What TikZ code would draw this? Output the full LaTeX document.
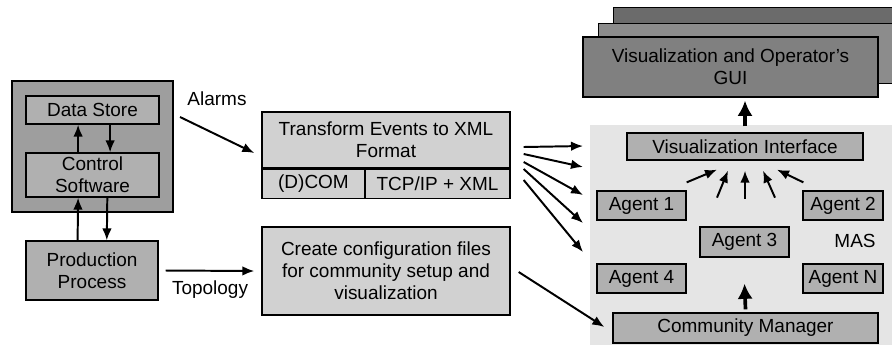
\documentclass[tikz,border=0pt]{standalone}
\usepackage{fontspec}
\setmainfont{Liberation Sans}
\usetikzlibrary{arrows.meta,calc}

\begin{document}
\begin{tikzpicture}[
  x=0.025cm, y=-0.025cm,
  every node/.style={font=\fontsize{13.5}{15.6}\selectfont},
  box/.style={rectangle, draw=black, line width=0.9pt, inner sep=0pt, align=center},
  darkbox/.style={box, fill=black!38},
  midbox/.style={box, fill=black!31},
  lightbox/.style={box, fill=black!18},
  guibox/.style={box, fill=black!50},
  arw/.style={-{Latex[length=0.3cm,width=0.24cm]}, line width=1.4pt},
  fatarw/.style={-{Latex[length=0.38cm,width=0.38cm]}, line width=2.6pt}
  ]

\useasboundingbox (0,0) rectangle (892,345);
\fill[black!10] (590,125) rectangle (892,345);

\node [darkbox, minimum width=4.025cm, minimum height=3.275cm] (ctrl) at (92.5,146.5) {};
\node [midbox, minimum width=3.325cm, minimum height=0.7cm] (ds) at (92.5,110) {Data Store};
\node [midbox, minimum width=3.325cm, minimum height=1.1cm] (cs) at (92.5,175) {Control\\Software};
\node [midbox, minimum width=3.3cm, minimum height=1.475cm] (pp) at (92,270.5) {Production\\Process};

\node [lightbox, minimum width=6.2cm, minimum height=1.4cm] (tr) at (386,140) {Transform Events to XML\\Format};
\node [lightbox, minimum width=2.575cm, minimum height=0.725cm, anchor=north west] (dcom) at (tr.south west) {(D)COM};
\node [lightbox, minimum width=3.625cm, minimum height=0.725cm, anchor=north east] (tcp) at (tr.south east) {TCP/IP + XML};
\node [lightbox, minimum width=6.2cm, minimum height=2.2cm] (cr) at (386,271) {Create configuration files\\for community setup and\\visualization};

\node [guibox, fill=black!58, minimum width=7.175cm, minimum height=1.7cm, anchor=north west] (gui3) at (613,7) {};
\node [guibox, fill=black!45, minimum width=7.55cm, minimum height=1.5cm, anchor=north west] (gui2) at (598,23) {};
\node [guibox, minimum width=7.375cm, minimum height=1.5cm] (gui) at (730.5,67) {Visualization and Operator's\\GUI};

\node [midbox, minimum width=5.9cm, minimum height=0.675cm] (vi) at (745,146.5) {Visualization Interface};
\node [midbox, minimum width=2.225cm, minimum height=0.725cm] (a1) at (641.5,205.5) {Agent 1};
\node [midbox, minimum width=2.0cm, minimum height=0.725cm] (a2) at (843,205.5) {Agent 2};
\node [midbox, minimum width=2.225cm, minimum height=0.75cm] (a3) at (744.5,242) {Agent 3};
\node [midbox, minimum width=2.225cm, minimum height=0.725cm] (a4) at (641.5,278.5) {Agent 4};
\node [midbox, minimum width=2.0cm, minimum height=0.725cm] (an) at (843,278.5) {Agent N};
\node (mas) at (855,241) {MAS};
\node [midbox, minimum width=6.625cm, minimum height=0.75cm] (cm) at (745.5,328) {Community Manager};

\draw [arw] ([xshift=-0.36cm]cs.north) -- ([xshift=-0.36cm]ds.south);
\draw [arw] ([xshift=0.44cm]ds.south) -- ([xshift=0.44cm]cs.north);
\draw [arw] ([xshift=-0.36cm]pp.north) -- ([xshift=-0.36cm]cs.south);
\draw [arw] ([xshift=0.37cm]cs.south) -- ([xshift=0.37cm]pp.north);

\coordinate (al) at (180,117);
\node (alarms) at (217,99) {Alarms};
\draw [arw] (al) -- ($(tr.west)+(-7,13)$);
\draw [arw] ($(pp.east)+(7,0)$) -- node [midway, below=0.1cm] {Topology} ($(cr.west)+(-7,0)$);

\foreach \s/\e [count=\i] in {7/146, 14/167, 22/195, 29/223, 40/252} {
  \coordinate (f\i) at (583,\e);
  \draw [arw] ($(tr.east)+(13,\s)$) -- (f\i);
}
\draw [arw] ($(cr.east)+(8,1)$) -- ($(cm.west)+(-8,-1)$);

\draw [fatarw] ($(vi.north)+(0,-6)$) -- ($(vi.north |- gui.south)+(0,3)$);
\draw [fatarw] ($(cm.north)+(0,-3)$) -- ($(a3.south)+(0,26)$);

\draw [arw] ($(a1.north east)+(0,-8)$) -- ($(vi.south)+(-28,9)$);
\draw [arw] ($(vi.south)+(-28,37)$) -- ($(vi.south)+(-17,10)$);
\draw [arw] ($(vi.south)+(0,38)$) -- ($(vi.south)+(0,10)$);
\draw [arw] ($(vi.south)+(30,37)$) -- ($(vi.south)+(18,10)$);
\draw [arw] ($(a2.north west)+(1,-8)$) -- ($(vi.south)+(32,9)$);

\end{tikzpicture}
\end{document}
